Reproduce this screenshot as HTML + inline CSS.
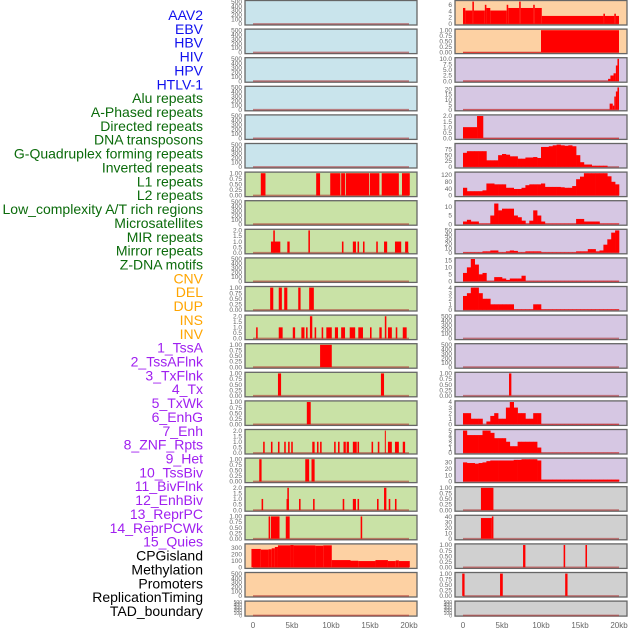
<!DOCTYPE html>
<html><head><meta charset="utf-8"><style>
html,body{margin:0;padding:0;background:#fff;}
svg{display:block;font-family:"Liberation Sans",sans-serif;}
</style></head><body>
<svg id="chart" width="630" height="630" viewBox="0 0 630 630"></svg>
<script>
// ---- labels ----
const labelNames = ["AAV2","EBV","HBV","HIV","HPV","HTLV-1","Alu repeats","A-Phased repeats","Directed repeats","DNA transposons","G-Quadruplex forming repeats","Inverted repeats","L1 repeats","L2 repeats","Low_complexity A/T rich regions","Microsatellites","MIR repeats","Mirror repeats","Z-DNA motifs","CNV","DEL","DUP","INS","INV","1_TssA","2_TssAFlnk","3_TxFlnk","4_Tx","5_TxWk","6_EnhG","7_Enh","8_ZNF_Rpts","9_Het","10_TssBiv","11_BivFlnk","12_EnhBiv","13_ReprPC","14_ReprPCWk","15_Quies","CPGisland","Methylation","Promoters","ReplicationTiming","TAD_boundary"];
const labelGroups = [6,13,5,15,5];
const groupColors = ["#1010ee","#0b6b0b","#ffa500","#a020f0","#000000"];
const xTickValues = [0,5,10,15,20];
const xTickLabels = ["0","5kb","10kb","15kb","20kb"];

// ---- left column data (segments [startKb,endKb,value]) ----
const L6seg = [[1.0,1.6,1],[8.1,8.6,1],[9.9,11.2,1],[11.3,11.8,1],[11.9,14.9,1],[15.0,16.2,1],[16.5,18.7,1],[19.1,20.1,1]];
const L8seg = [[2.3,3.5,1],[2.6,2.8,2],[4.4,4.7,1],[7.1,7.3,2],[11.4,11.6,1],[12.8,13.2,1],[13.4,13.6,1],[14.1,14.3,1],[15.8,16.0,1],[16.8,17.2,1],[18.2,19.0,1],[19.5,19.9,1]];
const L10seg = [[2.2,2.6,1],[3.3,3.7,1],[4.0,4.4,1],[5.8,6.1,1],[7.2,7.8,1]];
const L11seg = [[0.4,0.6,1],[3.3,3.8,1],[5.1,5.4,1],[6.2,6.6,1],[6.8,7.0,1],[7.3,7.6,2],[7.9,8.1,1],[8.8,9.0,1],[9.4,10.1,1],[10.5,10.9,1],[11.3,11.8,1],[12.4,13.1,1],[13.5,14.1,1],[15.0,15.2,1],[16.2,16.5,1],[16.9,17.1,2],[17.3,17.8,1],[18.3,18.5,1],[19.2,19.7,1]];
const L12seg = [[8.6,10.1,1]];
const L13seg = [[3.2,3.6,1],[16.4,16.8,1]];
const L14seg = [[6.9,7.4,1]];
const L15seg = [[1.3,1.5,1],[2.3,2.5,1],[3.2,3.4,1],[4.0,4.2,1],[4.5,4.7,1],[4.9,5.1,1],[7.6,7.9,1],[8.2,8.4,1],[8.6,8.8,1],[10.4,10.6,1],[10.9,11.1,1],[11.6,11.9,1],[12.0,12.3,1],[12.8,13.3,1],[13.4,13.6,1],[15.2,15.4,1],[16.0,16.2,1],[16.9,17.0,2],[17.3,17.8,1],[18.2,18.7,1],[19.2,19.5,1]];
const L16seg = [[0.8,1.1,1],[6.7,7.2,1],[7.5,7.9,1]];
const L17seg = [[1.1,1.3,1],[4.3,4.6,1],[4.4,4.6,2],[5.9,6.1,1],[7.7,7.9,1],[11.5,11.7,1],[12.8,13.2,1],[13.4,13.6,1],[15.9,16.1,1],[16.8,17.1,2],[17.4,17.6,1],[18.2,18.4,1]];
const L18seg = [[2.0,2.2,1],[2.3,3.4,1],[4.2,4.7,1],[13.8,14.0,1]];
const L19seg = [[-0.2,1.0,280],[1.0,2.0,270],[2.0,2.4,275],[2.4,2.8,290],[2.8,3.2,310],[3.2,4.8,335],[4.8,5.2,340],[5.2,8.0,335],[8.0,9.0,330],[9.0,10.1,335],[10.1,12.5,110],[12.5,13.5,100],[13.5,15.7,95],[15.7,17.3,110],[17.3,18.3,95],[18.3,18.7,105],[18.7,20.1,95]];

// ---- right column data ----
const R0seg = [[0,0.3,5],[0.3,1.2,4.2],[1.2,1.4,7],[1.4,2.8,4.2],[2.8,3.0,6],[3.0,3.5,5],[3.5,5.6,4.2],[5.6,5.8,6],[5.8,7.2,5],[7.2,7.4,7],[7.4,9.0,5],[9.0,9.2,6],[9.2,10.1,5],[10.1,18.0,2.5],[18.0,18.2,3.2],[18.2,19.4,2.5],[19.4,19.6,3.2],[19.6,20.0,2.5]];
const R1seg = [[0,10.0,0.02],[10.0,20.0,1]];
const R2seg = [[0,18.6,0.1],[18.6,18.9,1],[18.9,19.3,2.5],[19.3,19.6,3.5],[19.6,19.8,7],[19.8,20.0,10]];
const R3seg = [[0,18.8,0.2],[18.8,19.2,6],[19.2,19.4,4],[19.4,19.6,13],[19.6,19.8,18],[19.8,20.0,22]];
const R4seg = [[0,1.8,1],[1.8,2.6,2],[2.6,20,0.03]];
const R5bins = [60,67,67,67,67,67,28,28,28,50,55,52,45,45,35,35,40,40,42,38,85,85,88,92,95,92,90,92,88,50,20,10,10,5,5,5,5,0,0,0];
const R6bins = [45,25,25,25,25,30,70,70,65,65,65,45,45,38,38,45,60,65,65,65,70,50,50,50,50,48,45,45,55,95,110,130,130,130,130,130,130,112,80,65];
const R7bins = [1.5,2.5,1.5,1.5,0.3,0.3,0.3,5,12,8,9,9,9,5,4,2,0.3,2,8,5,1.5,0.3,0.3,0.3,0.3,0.3,0.3,0.3,0.3,3,3,1.5,1.5,1.5,1.5,0.3,0.3,0.3,0.3,0.3];
const R8bins = [1,1,1,1,1,3,3,5,5,1,1,3,5,4,1,1,3,3,3,3,1,1,1,1,1,1,1,1,1,3,3,3,8,8,3,5,18,30,45,50];
const R9bins = [6,10,16,12,5,6,0.3,0.3,3,3,2,1,2,2,2,4,0.3,0.3,0.3,0.3,0.3,0.3,0.3,0.3,0.3,0.3,0.3,0.3,0.3,0.3,0.3,0.3,0.3,0.3,0.3,0.3,0.3,0.3,0.3,0.3];
const R10bins = [2.5,3,4,4,3,2,2,1,1,1,1,1,1,0.1,0.1,0.1,0.1,0.1,1,1,0.1,0.1,0.1,0.1,0.1,0.1,0.1,0.1,0.1,0.1,0.1,0.1,0.1,0.1,0.1,0.1,0.1,0.1,0.1,0.1];
const R13seg = [[5.9,6.2,1]];
const R14bins = [2,2,1,1,1,0,0.5,1.5,2,1,1,3,4,3,2,2,1,1,2,2,0.05,0.05,0.05,0.05,0.05,0.05,0.05,0.05,0.05,0.05,0.05,0.05,0.05,0.05,0.05,0.05,0.05,0.05,0.05,0.05];
const R15bins = [5,4,4,4,4,5,5,4.5,3.3,3.3,3.3,2.5,1.5,1.5,2.5,2.5,2.5,2.5,2.5,1.2,0.05,0.05,0.05,0.05,0.05,0.05,0.05,0.05,0.05,0.05,0.05,0.05,0.05,0.05,0.05,0.05,0.05,0.05,0.05,0.05];
const R16bins = [30,29,29,28,29,30,32,33,33,33,33,33,33,34,34,35,35,35,35,33,3,3,3,3,3,3,3,3,3,3,3,3,3,3,3,3,3,3,3,3];
const R17seg = [[2.3,3.9,1]];
const R18seg = [[2.3,3.7,38],[3.7,3.9,41]];
const R19seg = [[7.7,8.0,1],[12.9,13.1,1],[15.7,15.9,1]];
const R20seg = [[-0.1,0.2,1],[4.75,5.1,1],[13.1,13.4,1]];

// tick sets
const tEmpty = [[0,"0"],[100,"100"],[200,"200"],[300,"300"],[400,"400"],[500,"500"]];
const t1 = [[0,"0.00"],[0.25,"0.25"],[0.5,"0.50"],[0.75,"0.75"],[1,"1.00"]];
const t2 = [[0,"0.0"],[0.5,"0.5"],[1,"1.0"],[1.5,"1.5"],[2,"2.0"]];

const BLUE="#c9e4ec", PEACH="#fdd1a3", LAV="#d6c7e3", GREEN="#c9e2a6", GREY="#d0d0d0";

const leftPanels = [
 {bg:BLUE,max:500,ticks:tEmpty},{bg:BLUE,max:500,ticks:tEmpty},{bg:BLUE,max:500,ticks:tEmpty},
 {bg:BLUE,max:500,ticks:tEmpty},{bg:BLUE,max:500,ticks:tEmpty},{bg:BLUE,max:500,ticks:tEmpty},
 {bg:GREEN,max:1,ticks:t1,seg:L6seg},{bg:GREEN,max:500,ticks:tEmpty},
 {bg:GREEN,max:2,ticks:t2,seg:L8seg},{bg:GREEN,max:500,ticks:tEmpty},
 {bg:GREEN,max:1,ticks:t1,seg:L10seg},{bg:GREEN,max:2,ticks:t2,seg:L11seg},
 {bg:GREEN,max:1,ticks:t1,seg:L12seg},{bg:GREEN,max:1,ticks:t1,seg:L13seg},
 {bg:GREEN,max:1,ticks:t1,seg:L14seg},{bg:GREEN,max:2,ticks:t2,seg:L15seg},
 {bg:GREEN,max:1,ticks:t1,seg:L16seg},{bg:GREEN,max:2,ticks:t2,seg:L17seg},
 {bg:GREEN,max:1,ticks:t1,seg:L18seg},
 {bg:PEACH,max:340,ticks:[[0,"0"],[100,"100"],[200,"200"],[300,"300"]],seg:L19seg},
 {bg:PEACH,max:500,ticks:tEmpty},{bg:PEACH,max:500,ticks:tEmpty}
];
const rightPanels = [
 {bg:PEACH,max:7,ticks:[[0,"0"],[2,"2"],[4,"4"],[6,"6"]],seg:R0seg},
 {bg:PEACH,max:1,ticks:t1,seg:R1seg},
 {bg:LAV,max:10,ticks:[[0,"0.0"],[2.5,"2.5"],[5,"5.0"],[7.5,"7.5"],[10,"10.0"]],seg:R2seg},
 {bg:LAV,max:22,ticks:[[0,"0"],[5,"5"],[10,"10"],[15,"15"],[20,"20"]],seg:R3seg},
 {bg:LAV,max:2,ticks:t2,seg:R4seg},
 {bg:LAV,max:95,ticks:[[0,"0"],[25,"25"],[50,"50"],[75,"75"]],bins:R5bins},
 {bg:LAV,max:130,ticks:[[0,"0"],[40,"40"],[80,"80"],[120,"120"]],bins:R6bins},
 {bg:LAV,max:13,ticks:[[0,"0"],[5,"5"],[10,"10"]],bins:R7bins},
 {bg:LAV,max:50,ticks:[[0,"0"],[10,"10"],[20,"20"],[30,"30"],[40,"40"],[50,"50"]],bins:R8bins},
 {bg:LAV,max:16,ticks:[[0,"0"],[5,"5"],[10,"10"],[15,"15"]],bins:R9bins},
 {bg:LAV,max:4,ticks:[[0,"0"],[1,"1"],[2,"2"],[3,"3"],[4,"4"]],bins:R10bins},
 {bg:LAV,max:500,ticks:tEmpty},{bg:LAV,max:500,ticks:tEmpty},
 {bg:LAV,max:1,ticks:t1,seg:R13seg},
 {bg:LAV,max:4,ticks:[[0,"0"],[1,"1"],[2,"2"],[3,"3"],[4,"4"]],bins:R14bins},
 {bg:LAV,max:5,ticks:[[0,"0"],[1,"1"],[2,"2"],[3,"3"],[4,"4"],[5,"5"]],bins:R15bins},
 {bg:LAV,max:35,ticks:[[0,"0"],[10,"10"],[20,"20"],[30,"30"]],bins:R16bins},
 {bg:GREY,max:1,ticks:t1,seg:R17seg},
 {bg:GREY,max:41,ticks:[[0,"0"],[10,"10"],[20,"20"],[30,"30"],[40,"40"]],seg:R18seg},
 {bg:GREY,max:1,ticks:t1,seg:R19seg},
 {bg:GREY,max:1,ticks:t1,seg:R20seg},
 {bg:GREY,max:500,ticks:tEmpty}
];

const NS="http://www.w3.org/2000/svg";
const svg=document.getElementById('chart');
function mk(tag,attrs,parent){const e=document.createElementNS(NS,tag);for(const k in attrs)e.setAttribute(k,attrs[k]);(parent||svg).appendChild(e);return e;}

// labels
let gi=0, cnt=0;
labelNames.forEach((name,i)=>{
  while(cnt>=labelGroups[gi]){cnt=0;gi++;}
  cnt++;
  const t=mk('text',{x:203,y:15+i*13.86+5,'text-anchor':'end','font-size':14,fill:groupColors[gi]});
  t.textContent=name;
  
  
});

function drawPanel(p,i,side){
  const fx = side==='left'?245:455, fw=172;
  const x0 = side==='left'?253:463, kbPx=7.8;
  const top = 0.5+i*28.6, h = (i===21)?15:24.5;
  const xs = kb => x0+kb*kbPx;
  const lo=-0.05*p.max, hi=1.05*p.max;
  const ys = v => top+h-(v-lo)/(hi-lo)*h;
  const g=mk('g',{});
  
  
  const r=mk('rect',{x:fx,y:top,width:fw,height:h,fill:p.bg,stroke:'#666',"stroke-width":1.3},g);
  
  
  const fs = i===21?5:6.5;
  p.ticks.forEach(([v,lab])=>{
    const t=mk('text',{x:fx-3,y:ys(v)+2.2,'text-anchor':'end','font-size':fs,fill:'#666'},g);
    t.textContent=lab;
    
    
  });
  const base=mk('line',{x1:xs(0),x2:xs(20),y1:ys(0),y2:ys(0),stroke:'rgba(170,40,40,0.55)','stroke-width':1.6},g);
  
  
  if(p.seg){p.seg.forEach(([a,b,v])=>{
    const bar=mk('rect',{x:xs(a),y:ys(v),width:Math.max(1,xs(b)-xs(a)),height:ys(0)-ys(v),fill:'#ff0000'},g);
    
    
  });}
  if(p.bins){p.bins.forEach((v,k)=>{
    const a=k*0.5,b=a+0.5;
    const bar=mk('rect',{x:xs(a),y:ys(v),width:xs(b)-xs(a)+0.3,height:ys(0)-ys(v),fill:'#ff0000'},g);
    
    
  });}
}
leftPanels.forEach((p,i)=>drawPanel(p,i,'left'));
rightPanels.forEach((p,i)=>drawPanel(p,i,'right'));

// x axes
[253,463].forEach((x0,j)=>{
  xTickValues.forEach((v,k)=>{
    const t=mk('text',{x:x0+v*7.8,y:628,'text-anchor':'middle','font-size':8,fill:'#666'});
    t.textContent=xTickLabels[k];
    
    
  });
});
</script>
</body></html>
